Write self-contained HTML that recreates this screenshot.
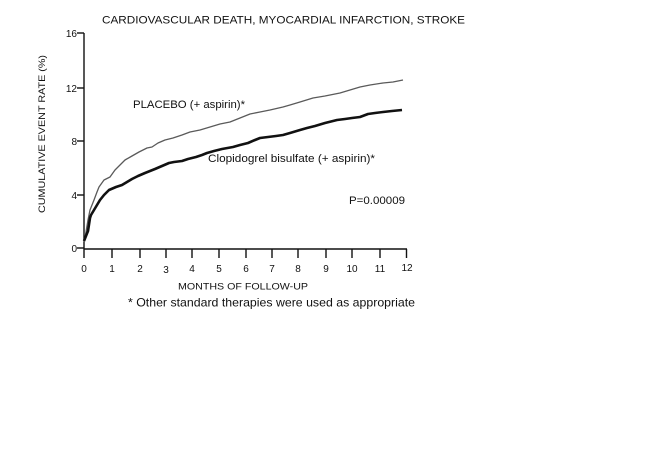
<!DOCTYPE html>
<html><head><meta charset="utf-8">
<style>
html,body{margin:0;padding:0;background:#fff;}
svg{display:block;}
text{font-family:"Liberation Sans",Arial,sans-serif;fill:#111;}
</style></head>
<body>
<svg width="656" height="455" viewBox="0 0 656 455" xmlns="http://www.w3.org/2000/svg">
<rect width="656" height="455" fill="#fff"/>
<text x="102" y="23.5" font-size="11" textLength="363" lengthAdjust="spacingAndGlyphs">CARDIOVASCULAR DEATH, MYOCARDIAL INFARCTION, STROKE</text>
<!-- axes -->
<g stroke="#111" stroke-width="1.4" fill="none">
<line x1="84" y1="33" x2="84" y2="258"/>
<line x1="84" y1="249" x2="407" y2="249"/>
<line x1="77" y1="33" x2="84" y2="33"/>
<line x1="77" y1="88" x2="84" y2="88"/>
<line x1="77" y1="141" x2="84" y2="141"/>
<line x1="77" y1="195" x2="84" y2="195"/>
<line x1="77" y1="248" x2="84" y2="248"/>
<line x1="112" y1="249" x2="112" y2="258"/>
<line x1="140" y1="249" x2="140" y2="258"/>
<line x1="166" y1="249" x2="166" y2="258"/>
<line x1="192" y1="249" x2="192" y2="258"/>
<line x1="219" y1="249" x2="219" y2="258"/>
<line x1="246" y1="249" x2="246" y2="258"/>
<line x1="272" y1="249" x2="272" y2="258"/>
<line x1="298" y1="249" x2="298" y2="258"/>
<line x1="326" y1="249" x2="326" y2="258"/>
<line x1="352" y1="249" x2="352" y2="258"/>
<line x1="380" y1="249" x2="380" y2="258"/>
<line x1="406.5" y1="249" x2="406.5" y2="258"/>
</g>
<g font-size="10" text-anchor="end">
<text x="77" y="37">16</text>
<text x="77" y="92">12</text>
<text x="77" y="145">8</text>
<text x="77" y="199">4</text>
<text x="77" y="252">0</text>
</g>
<g font-size="10" text-anchor="middle">
<text x="84" y="272">0</text>
<text x="112" y="272">1</text>
<text x="140" y="272">2</text>
<text x="166" y="273">3</text>
<text x="192" y="272">4</text>
<text x="219" y="272">5</text>
<text x="246" y="272">6</text>
<text x="272" y="272">7</text>
<text x="298" y="272">8</text>
<text x="326" y="272">9</text>
<text x="352" y="272">10</text>
<text x="380" y="272">11</text>
<text x="407" y="271">12</text>
</g>
<text transform="translate(45,134) rotate(-90)" font-size="9.5" text-anchor="middle" textLength="158" lengthAdjust="spacingAndGlyphs">CUMULATIVE EVENT RATE (%)</text>
<text x="178" y="289.5" font-size="9" textLength="130" lengthAdjust="spacingAndGlyphs">MONTHS OF FOLLOW-UP</text>
<text x="128" y="306.5" font-size="12" textLength="287" lengthAdjust="spacingAndGlyphs">* Other standard therapies were used as appropriate</text>
<!-- series -->
<polyline fill="none" stroke="#5a5a5a" stroke-width="1.3" stroke-linejoin="round" points="84,242 86,232 88,220 90,210 94,200 97,192 99,187 104,180 110,177 115,170 120,165 125,160 132,156 139,152 147,148 152,147 158,143 165,140 173,138 182,135 190,132 200,130 210,127 220,124 230,122 240,118 250,114 260,112 270,110 283,107 290,105 300,102 313,98 325,96 340,93 350,90 360,87 370,85 383,83 393,82 403,80"/>
<polyline fill="none" stroke="#111" stroke-width="2.6" stroke-linejoin="round" points="84,241 86,236 88,231 90,218 91,215 94,210 97,205 100,200 104,195 109,190 116,187 122,185 127,182 132,179 138,176 145,173 150,171 155,169 162,166 169,163 174,162 182,161 188,159 196,157 202,155 207,153 214,151 222,149 233,147 240,145 248,143 255,140 260,138 268,137 276,136 283,135 290,133 300,130 307,128 315,126 325,123 337,120 345,119 352,118 360,117 368,114 375,113 383,112 392,111 402,110"/>
<text x="133" y="108" font-size="11" textLength="112" lengthAdjust="spacingAndGlyphs">PLACEBO (+ aspirin)*</text>
<text x="208" y="162" font-size="11" textLength="167" lengthAdjust="spacingAndGlyphs">Clopidogrel bisulfate (+ aspirin)*</text>
<text x="349" y="204" font-size="11" textLength="56" lengthAdjust="spacingAndGlyphs">P=0.00009</text>
</svg>
</body></html>
